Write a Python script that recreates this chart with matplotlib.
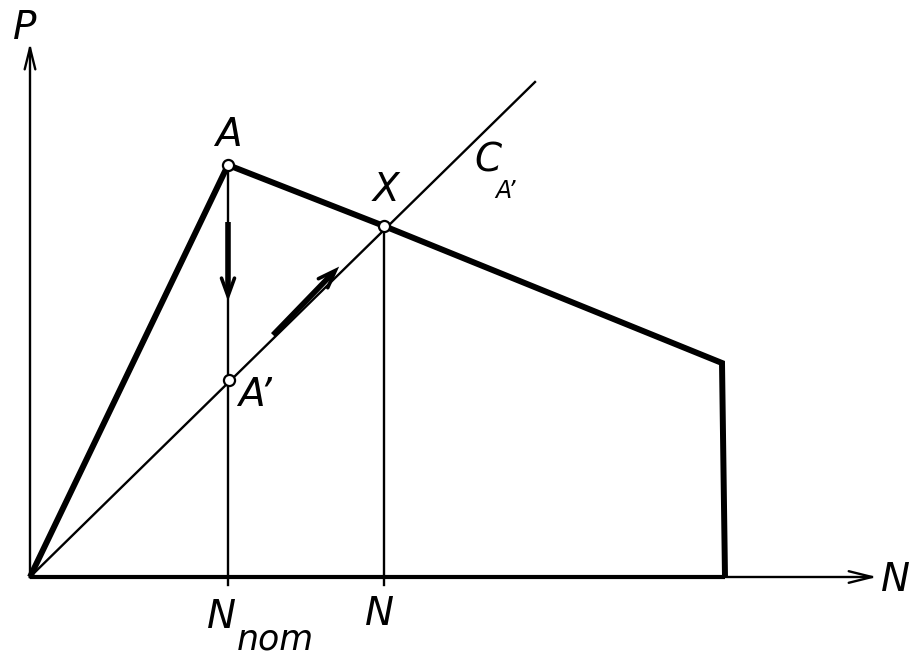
import matplotlib
matplotlib.use("Agg")
import matplotlib.pyplot as plt
import numpy as np

# Characteristic curve P(N) (polygon), in drawing units
curve_N = [0, 198, 354, 692, 695]
curve_P = [0, 412, 351, 214, 0]
# Operating line C_A' through origin
line_N = [0, 505]
line_P = [0, 495]
# Marked points
pt_labels = ["A", "X", "A’"]
pt_N = [198, 354, 199]
pt_P = [412, 351, 197]
# Arrows (start, end)
arrow_down = [(198, 355), (198, 286)]
arrow_diag = [(243, 242), (302, 303)]
# Axis ticks
tick_N = [198, 354]

fig = plt.figure(figsize=(9.15, 6.67), dpi=100)
ax = fig.add_axes([0, 0, 1, 1])
ax.set_xlim(-30, 885)
ax.set_ylim(-90, 577)
ax.axis("off")

k = "black"
thin = 1.7
thick = 4.3


def vhead(tip, direction, length, half_angle_deg, lw):
    d = np.asarray(direction, float)
    d = d / np.linalg.norm(d)
    a = np.deg2rad(half_angle_deg)
    rot = lambda v, t: np.array([v[0] * np.cos(t) - v[1] * np.sin(t),
                                 v[0] * np.sin(t) + v[1] * np.cos(t)])
    b1 = np.asarray(tip) - length * rot(d, a)
    b2 = np.asarray(tip) - length * rot(d, -a)
    ax.plot([b1[0], tip[0], b2[0]], [b1[1], tip[1], b2[1]], color=k, lw=lw,
            solid_joinstyle="miter", solid_capstyle="round")


# axes
ax.plot([0, 0], [0, 529], color=k, lw=thin)
ax.plot([0, 842], [0, 0], color=k, lw=thin)
vhead((0, 529), (0, 1), 22, 14, thin)
vhead((842, 0), (1, 0), 24, 14, thin)

# bottom edge thicker
ax.plot([0, curve_N[-1]], [0, 0], color=k, lw=3.0, solid_capstyle="butt")

# operating line
ax.plot(line_N, line_P, color=k, lw=thin)

# verticals
ax.plot([tick_N[0], tick_N[0]], [pt_P[0], -8], color=k, lw=thin)
ax.plot([tick_N[1], tick_N[1]], [pt_P[1], -8], color=k, lw=thin)

# characteristic
ax.plot(curve_N, curve_P, color=k, lw=thick, solid_joinstyle="miter", solid_capstyle="butt")

# direction arrows
for (s, e) in [arrow_down, arrow_diag]:
    ax.plot([s[0], e[0]], [s[1], e[1]], color=k, lw=4.0, solid_capstyle="butt")
    d = (e[0] - s[0], e[1] - s[1])
    n = np.hypot(*d)
    tip = (e[0] + 5 * d[0] / n, e[1] + 5 * d[1] / n)
    vhead(tip, d, 19, 20, 2.6)

# points
ax.scatter(pt_N, pt_P, s=64, facecolor="white", edgecolor=k, linewidth=1.6, zorder=5)

fs = 28
fkw = dict(family="DejaVu Sans", style="oblique", color=k, fontsize=fs)
ax.text(-5, 549, "P", ha="center", va="center", **fkw)
ax.text(866, -3, "N", ha="center", va="center", **fkw)
ax.text(pt_N[0], 442, pt_labels[0], ha="center", va="center", **fkw)
ax.text(356, 387, pt_labels[1], ha="center", va="center", **fkw)
ax.text(225, 182, pt_labels[2], ha="center", va="center", **fkw)
# C_A'
ax.text(458, 417, "C", ha="center", va="center", **fkw)
ax.text(476, 386, "A’", ha="center", va="center", family="DejaVu Sans",
        style="oblique", color=k, fontsize=17)
# N_nom
ax.text(192, -40, "N", ha="center", va="center", **fkw)
ax.text(245, -62, "nom", ha="center", va="center", family="DejaVu Sans",
        style="oblique", color=k, fontsize=25)
ax.text(tick_N[1] - 4, -37, "N", ha="center", va="center", **fkw)

fig.savefig("out.png", dpi=100)
